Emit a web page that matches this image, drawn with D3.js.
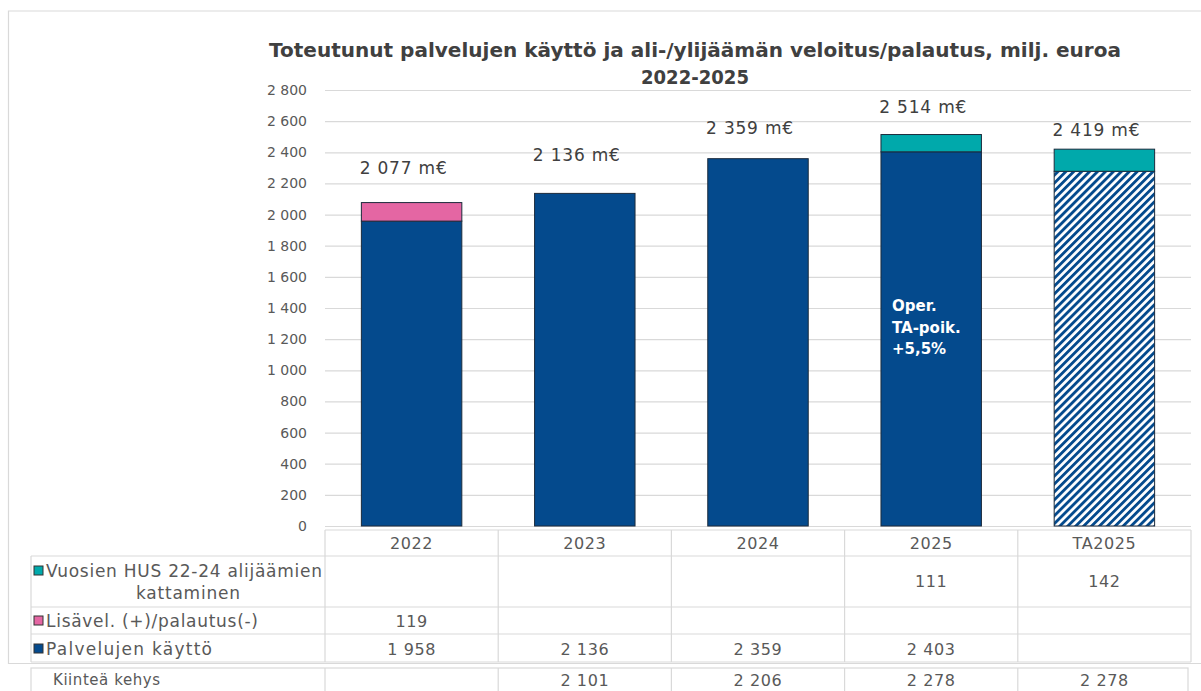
<!DOCTYPE html>
<html>
<head>
<meta charset="utf-8">
<script src="https://cdn.jsdelivr.net/npm/d3@7"></script>
<style>
  body { margin: 0; background: #fff; }
  text { font-family: 'DejaVu Sans', sans-serif; }
</style>
</head>
<body>
<div id="chart"></div>
<script>
// values
const categories = ['2022', '2023', '2024', '2025', 'TA2025']
const palvelut = [1958, 2136, 2359, 2403, null]
const lisavel = [119, null, null, null, null]
const alijaama = [null, null, null, 111, 142]
const kehys = [null, 2101, 2206, 2278, 2278]
const totalLabels = ['2 077 m€', '2 136  m€', '2 359 m€', '2 514 m€', '2 419 m€']
const labelAt = [2300, 2385, 2555, 2690, 2545]
const yTicks = d3.range(0, 2801, 200)
const seriesNames = ['Vuosien HUS 22-24 alijäämien kattaminen', 'Lisävel. (+)/palautus(-)', 'Palvelujen käyttö']

const blue = '#044a8d'
const teal = '#00a9ab'
const pink = '#e466a3'
const grid = '#d9d9d9'
const textGrey = '#595959'

const width = 1201
const height = 691

const svg = d3
  .select('#chart')
  .append('svg')
  .attr('width', width)
  .attr('height', height)

// hatch for the budget bar
const defs = svg.append('defs')
const pat = defs.append('pattern')
  .attr('id', 'hatch')
  .attr('patternUnits', 'userSpaceOnUse')
  .attr('width', 5.6)
  .attr('height', 5.6)
  .attr('patternTransform', 'rotate(45)')
pat.append('rect').attr('width', 5.6).attr('height', 5.6).attr('fill', '#fff')
pat.append('line')
  .attr('x1', 1.4).attr('x2', 1.4)
  .attr('y1', 0).attr('y2', 5.6)
  .attr('stroke', blue)
  .attr('stroke-width', 2.9)

// outer frame
svg.append('path')
  .attr('d', 'M1210,11 H8.5 V663.5 H1210')
  .attr('fill', 'none')
  .attr('stroke', '#d9d9d9')
  .attr('stroke-width', 1.2)

const x = d3.scaleBand()
  .domain(categories)
  .range([325, 1191])
  .paddingInner(0.42)
  .paddingOuter(0.21)

const y = d3.scaleLinear()
  .domain([0, 2800])
  .range([526, 90])

// title
const title = svg.append('g')
  .attr('fill', '#404040')
  .attr('font-weight', 'bold')
  .attr('text-anchor', 'middle')
title.append('text')
  .attr('x', 695)
  .attr('y', 57)
  .attr('font-size', 20)
  .attr('textLength', 852)
  .attr('lengthAdjust', 'spacingAndGlyphs')
  .text('Toteutunut palvelujen käyttö ja ali-/ylijäämän veloitus/palautus, milj. euroa')
title.append('text')
  .attr('x', 695)
  .attr('y', 84)
  .attr('font-size', 20)
  .attr('textLength', 108)
  .attr('lengthAdjust', 'spacingAndGlyphs')
  .text('2022-2025')

// y axis with gridlines
const yAxis = d3.axisLeft(y)
  .tickValues(yTicks)
  .tickSize(-(1191 - 325))
  .tickPadding(18)
  .tickFormat(d => d3.format(',')(d).replace(/,/g, ' '))

svg.append('g')
  .attr('transform', 'translate(325,0)')
  .call(yAxis)
  .call(g => g.select('.domain').remove())
  .call(g => g.selectAll('.tick line').attr('stroke', grid).attr('stroke-width', 1.2))
  .call(g => g.selectAll('.tick text')
    .attr('fill', textGrey)
    .attr('font-size', 14)
    .attr('font-family', "'DejaVu Sans', sans-serif"))

// stacked bars
const rows = categories.map((c, i) => ({
  cat: c,
  base: palvelut[i] !== null ? palvelut[i] : kehys[i],
  hatched: palvelut[i] === null,
  lisavel: lisavel[i] || 0,
  alijaama: alijaama[i] || 0
}))

const stack = d3.stack().keys(['base', 'lisavel', 'alijaama'])
const layers = stack(rows)
const fills = { base: blue, lisavel: pink, alijaama: teal }

svg.append('g')
  .selectAll('g')
  .data(layers)
  .enter()
  .append('g')
  .selectAll('rect')
  .data(layer => layer.map(d => ({ key: layer.key, d })))
  .enter()
  .filter(s => s.d[1] > s.d[0])
  .append('rect')
  .attr('x', s => x(s.d.data.cat))
  .attr('width', x.bandwidth())
  .attr('y', s => y(s.d[1]))
  .attr('height', s => y(s.d[0]) - y(s.d[1]))
  .attr('fill', s => (s.key === 'base' && s.d.data.hatched) ? 'url(#hatch)' : fills[s.key])
  .attr('stroke', '#1c2b3c')
  .attr('stroke-width', 1)

// total labels
svg.append('g')
  .selectAll('text')
  .data(categories)
  .enter()
  .append('text')
  .attr('x', d => x(d) + x.bandwidth() / 2 - 8)
  .attr('y', (d, i) => y(labelAt[i]))
  .attr('dy', '0.35em')
  .attr('text-anchor', 'middle')
  .attr('font-size', 17)
  .attr('letter-spacing', 0.8)
  .attr('fill', '#404040')
  .text((d, i) => totalLabels[i])

// note inside 2025 bar
svg.append('text')
  .attr('x', x('2025') + 11)
  .attr('y', y(1380))
  .attr('fill', '#fff')
  .attr('font-weight', 'bold')
  .attr('font-size', 15)
  .selectAll('tspan')
  .data(['Oper.', 'TA-poik.', '+5,5%'])
  .enter()
  .append('tspan')
  .attr('x', x('2025') + 11)
  .attr('dy', (d, i) => i === 0 ? 0 : 21.5)
  .text(d => d)

// data table
const colEdges = categories.map(c => x(c) - x.step() * x.paddingOuter())
const tableLeft = 31
const tableRight = 1191
const rowY = [530, 556, 607, 634, 662]
const table = svg.append('g')
  .attr('stroke', grid)
  .attr('stroke-width', 1.2)

// horizontal rules
table.append('line').attr('x1', 325).attr('x2', tableRight).attr('y1', rowY[0]).attr('y2', rowY[0])
rowY.slice(1).forEach(r => {
  table.append('line').attr('x1', tableLeft).attr('x2', tableRight).attr('y1', r).attr('y2', r)
})
// vertical rules
table.append('line').attr('x1', tableLeft).attr('x2', tableLeft).attr('y1', rowY[1]).attr('y2', rowY[4])
colEdges.concat([tableRight]).forEach(cx => {
  table.append('line').attr('x1', cx).attr('x2', cx).attr('y1', rowY[0]).attr('y2', rowY[4])
})

// Kiinteä kehys box
const kTop = 668
const kBottom = 695
table.append('rect')
  .attr('x', tableLeft).attr('y', kTop)
  .attr('width', tableRight - 3 - tableLeft).attr('height', kBottom - kTop)
  .attr('fill', 'none')
colEdges.forEach(cx => {
  table.append('line').attr('x1', cx).attr('x2', cx).attr('y1', kTop).attr('y2', kBottom)
})

const cellText = svg.append('g')
  .attr('fill', textGrey)
  .attr('font-size', 16)
  .attr('letter-spacing', 0.6)
  .attr('text-anchor', 'middle')

const fmt = v => v === null ? '' : d3.format(',')(v).replace(/,/g, ' ')
const colCenter = c => x(c) + x.bandwidth() / 2

// header
cellText.selectAll('.hdr')
  .data(categories)
  .enter()
  .append('text')
  .attr('class', 'hdr')
  .attr('x', colCenter)
  .attr('y', 543)
  .attr('dy', '0.35em')
  .text(d => d)

const tableRows = [
  { values: alijaama, y: 581 },
  { values: lisavel, y: 621 },
  { values: palvelut, y: 649 },
  { values: kehys, y: 680 }
]

tableRows.forEach(r => {
  cellText.append('g')
    .selectAll('text')
    .data(categories)
    .enter()
    .append('text')
    .attr('x', colCenter)
    .attr('y', r.y)
    .attr('dy', '0.35em')
    .text((d, i) => fmt(r.values[i]))
})

// row labels with legend keys
const labelRows = [
  { lines: ['Vuosien HUS 22-24 alijäämien', 'kattaminen'], lens: [276, 104], ys: [571, 593], color: teal, size: 17 },
  { lines: [seriesNames[1]], lens: [212], ys: [621], color: pink, size: 17 },
  { lines: [seriesNames[2]], lens: [166], ys: [649], color: blue, size: 17 },
  { lines: ['Kiinteä kehys'], lens: [107], ys: [680], color: null, size: 15 }
]

labelRows.forEach(r => {
  if (r.color) {
    svg.append('rect')
      .attr('x', 34)
      .attr('y', r.ys[0] - 5)
      .attr('width', 9)
      .attr('height', 9)
      .attr('fill', r.color)
      .attr('stroke', '#333')
      .attr('stroke-width', 1)
  }
  r.lines.forEach((t, i) => {
    svg.append('text')
      .attr('x', i === 0 ? (r.color ? 46 : 53) : 188)
      .attr('y', r.ys[i])
      .attr('dy', '0.35em')
      .attr('text-anchor', i === 0 ? 'start' : 'middle')
      .attr('font-size', r.size)
      .attr('textLength', r.lens[i])
      .attr('lengthAdjust', 'spacing')
      .attr('fill', textGrey)
      .text(t)
  })
})
</script>
</body>
</html>
